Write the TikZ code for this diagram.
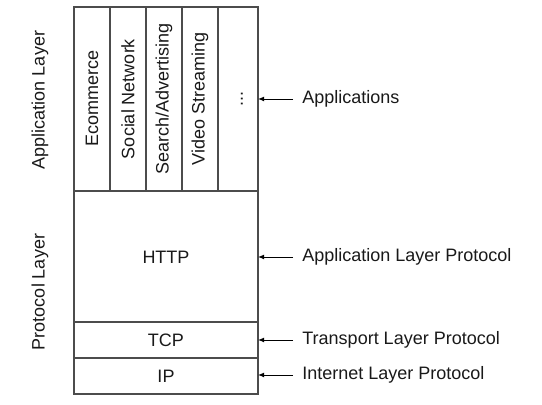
\documentclass[tikz,border=0pt]{standalone}
\usepackage{fontspec}
\setmainfont{Liberation Sans}
\usetikzlibrary{arrows.meta}

\begin{document}
\begin{tikzpicture}
[x=0.5pt,y=0.5pt,
 box/.style={draw=black!70,line width=0.7pt},
 txt/.style={text=black!90,font=\fontsize{9}{11}\selectfont,inner sep=0pt},
 vtxt/.style={txt,rotate=90},
 lbl/.style={txt,anchor=west,inner xsep=4.5pt},
 ptr/.style={draw=black,line width=0.45pt,-{Latex[length=3pt,width=2.4pt]}}]
\useasboundingbox (0,0) rectangle (542,405);
% stack
\draw[box] (74,11) rectangle (258,398);
\draw[box] (74,214)--(258,214);
\draw[box] (74,83)--(258,83);
\draw[box] (74,47)--(258,47);
\foreach \x in {110,146,182,218}
  \draw[box] (\x,214)--(\x,398);
% layer names
\node[vtxt] (applayer) at (40,305) {Application Layer};
\node[vtxt] (protlayer) at (40,113) {Protocol Layer};
% applications
\node[vtxt] (ecom) at (92,306) {Ecommerce};
\node[vtxt] (social) at (128,306) {Social Network};
\node[vtxt] (search) at (164,306) {Search/Advertising};
\node[vtxt] (video) at (200,306) {Video Streaming};
\node[vtxt] (more) at (242,306) {...};
% protocols
\node[txt] (http) at (166,148) {HTTP};
\node[txt] (tcp) at (166,65) {TCP};
\node[txt] (ip) at (166,29) {IP};
% labels
\coordinate (appsin) at (258,306);
\coordinate (httpin) at (258,148);
\coordinate (tcpin) at (258,65);
\coordinate (ipin) at (258,30);
\node[lbl] (apps) at (293,306) {Applications};
\node[lbl] (alp) at (293,148) {Application Layer Protocol};
\node[lbl] (tlp) at (293,65) {Transport Layer Protocol};
\node[lbl] (ilp) at (293,30) {Internet Layer Protocol};
\draw[ptr] (apps)--(appsin);
\draw[ptr] (alp)--(httpin);
\draw[ptr] (tlp)--(tcpin);
\draw[ptr] (ilp)--(ipin);

\end{tikzpicture}
\end{document}
